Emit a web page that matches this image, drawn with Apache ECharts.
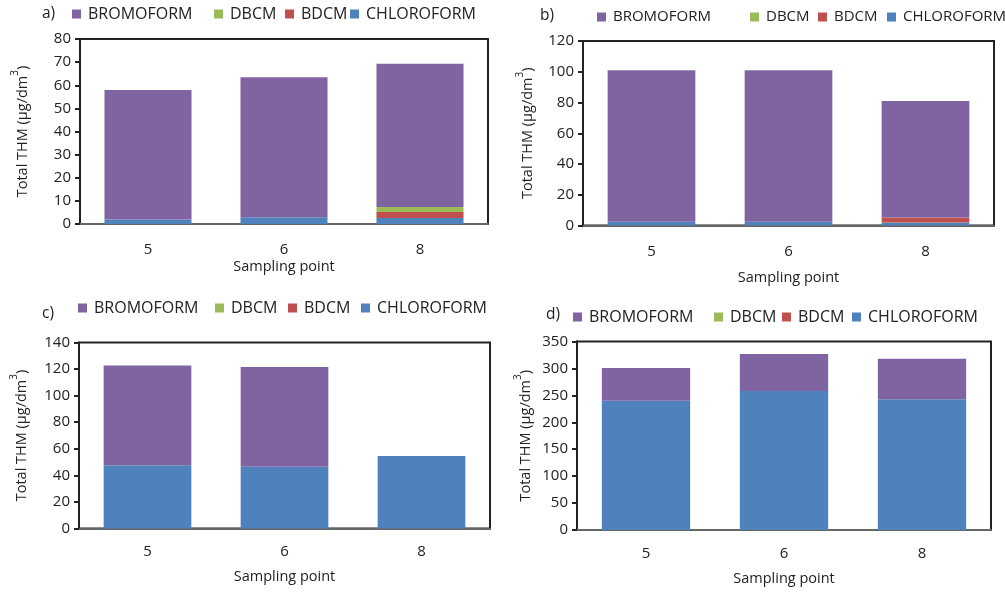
<!DOCTYPE html>
<html>
<head>
<meta charset="utf-8">
<script src="https://cdn.jsdelivr.net/npm/echarts@6/dist/echarts.min.js"></script>
<style>html,body{margin:0;padding:0;background:#fff;}#c{width:1005px;height:592px;}</style>
</head>
<body>
<div id="c"></div>
<script>
const categories = ['5', '6', '8'];
const seriesNames = ['BROMOFORM', 'DBCM', 'BDCM', 'CHLOROFORM'];
const panelLabels = ['a)', 'b)', 'c)', 'd)'];
const xTitle = 'Sampling point';

// panel a
const aChloroform = [2.0, 2.9, 2.6];
const aBdcm = [0, 0, 2.6];
const aDbcm = [0, 0, 2.2];
const aBromoform = [56.0, 60.6, 61.9];
// panel b
const bChloroform = [2.5, 2.5, 2.0];
const bBdcm = [0, 0, 3.2];
const bDbcm = [0, 0, 0];
const bBromoform = [98.5, 98.5, 75.8];
// panel c
const cChloroform = [47.7, 46.5, 54.5];
const cBdcm = [0, 0, 0];
const cDbcm = [0, 0, 0];
const cBromoform = [74.9, 75.0, 0];
// panel d
const dChloroform = [240, 258, 243];
const dBdcm = [0, 0, 0];
const dDbcm = [0, 0, 0];
const dBromoform = [61, 69, 75];

const yMax = [80, 120, 140, 350];
const yStep = [10, 20, 20, 50];

const colors = {BROMOFORM: '#8064A2', DBCM: '#9BBB59', BDCM: '#C0504D', CHLOROFORM: '#4F81BD'};
const panelData = [
  {CHLOROFORM: aChloroform, BDCM: aBdcm, DBCM: aDbcm, BROMOFORM: aBromoform},
  {CHLOROFORM: bChloroform, BDCM: bBdcm, DBCM: bDbcm, BROMOFORM: bBromoform},
  {CHLOROFORM: cChloroform, BDCM: cBdcm, DBCM: cDbcm, BROMOFORM: cBromoform},
  {CHLOROFORM: dChloroform, BDCM: dBdcm, DBCM: dDbcm, BROMOFORM: dBromoform}
];

const FONT = 'Open Sans';
const grids = [
  {left: 80, top: 39, width: 408, height: 185},
  {left: 583, top: 41, width: 411, height: 184.5},
  {left: 79, top: 342.5, width: 411, height: 186},
  {left: 577, top: 341.5, width: 414, height: 188.5}
];
// legend item square x-positions and vertical centres per panel
const legendX = [
  [72, 214, 285, 350],
  [597, 750, 818, 887],
  [78, 215, 288, 361],
  [573, 714, 782, 852]
];
const legendY = [14, 17, 308, 317];
const legendFont = [16, 15, 16, 16];
const labelPos = [
  {left: 42, cy: 14},
  {left: 540, cy: 16},
  {left: 42, cy: 314},
  {left: 546, cy: 315}
];
const labelMargin = [18, 19, 16, 16];
const xNameGap = [35, 45, 41, 41];
const yNameGap = [50, 48, 50, 44];

const legends = [];
legendX.forEach((xs, i) => {
  xs.forEach((x, j) => {
    legends.push({
      left: x, top: legendY[i] - 10, padding: 0,
      data: [seriesNames[j]],
      itemWidth: 9, itemHeight: 9, icon: 'rect',
      textStyle: {fontFamily: FONT, fontSize: legendFont[i], color: '#222', lineHeight: 20, padding: [0, 0, 0, 2]}
    });
  });
});

const option = {
  animation: false,
  backgroundColor: '#fff',
  textStyle: {fontFamily: FONT},
  title: panelLabels.map((t, i) => ({
    text: t, left: labelPos[i].left, top: labelPos[i].cy - 11, padding: 0,
    textStyle: {fontFamily: FONT, fontSize: 15.5, fontWeight: 'normal', color: '#222', lineHeight: 22}
  })),
  legend: legends,
  grid: grids.map(g => Object.assign({show: true, borderColor: '#222', borderWidth: 2, backgroundColor: 'transparent'}, g)),
  xAxis: grids.map((g, i) => ({
    type: 'category', gridIndex: i, data: categories,
    name: xTitle, nameLocation: 'middle', nameGap: xNameGap[i],
    nameTextStyle: {fontFamily: FONT, fontSize: 14.5, color: '#222'},
    axisLine: {lineStyle: {color: '#666', width: 2}},
    axisTick: {show: false},
    axisLabel: {fontFamily: FONT, fontSize: 15, color: '#222', margin: labelMargin[i]}
  })),
  yAxis: grids.map((g, i) => ({
    type: 'value', gridIndex: i, min: 0, max: yMax[i], interval: yStep[i],
    name: '{a|Total THM (µg/dm}{s|3}{a|)}',
    nameLocation: 'middle', nameGap: yNameGap[i], nameRotate: 90,
    nameMoveOverlap: false,
    nameTextStyle: {
      rich: {
        a: {fontFamily: FONT, fontSize: 14.5, color: '#222', lineHeight: 20, verticalAlign: 'bottom'},
        s: {fontFamily: FONT, fontSize: 10, color: '#222', lineHeight: 20, verticalAlign: 'top'}
      }
    },
    splitLine: {show: false},
    axisLine: {show: true, lineStyle: {color: '#222', width: 2}},
    axisTick: {show: true, inside: false, length: 5, lineStyle: {color: '#222', width: 2}},
    axisLabel: {fontFamily: FONT, fontSize: 15, color: '#222', margin: 9}
  })),
  series: []
};

panelData.forEach((pd, i) => {
  ['CHLOROFORM', 'BDCM', 'DBCM', 'BROMOFORM'].forEach(name => {
    option.series.push({
      type: 'bar', name: name, stack: 'p' + i,
      xAxisIndex: i, yAxisIndex: i,
      data: pd[name],
      barCategoryGap: '36%',
      itemStyle: {color: colors[name]}
    });
  });
});

const chart = echarts.init(document.getElementById('c'), null, {renderer: 'canvas'});
chart.setOption(option);
</script>
</body>
</html>
